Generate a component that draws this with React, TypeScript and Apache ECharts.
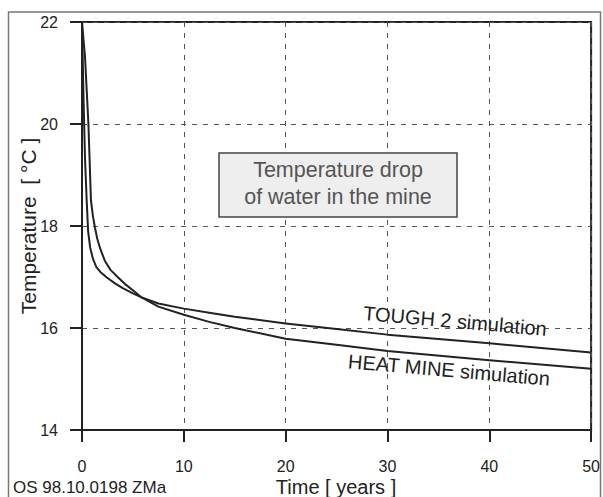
import React, { useEffect, useRef } from "react";
import * as echarts from "echarts";

const xTicks = [0, 10, 20, 30, 40, 50];
const yTicks = [14, 16, 18, 20, 22];

const toughYears = [0, 0.15, 0.3, 0.46, 0.6, 0.8, 1.07, 1.4, 1.8, 2.44, 3.2, 4, 5, 5.85, 7.5, 10, 12.5, 15, 20, 25, 30, 40, 50];
const toughTemp = [22, 20.5, 19.3, 18.5, 17.9, 17.58, 17.36, 17.2, 17.1, 16.99, 16.88, 16.78, 16.68, 16.6, 16.48, 16.38, 16.3, 16.22, 16.09, 15.98, 15.87, 15.7, 15.52];

const heatYears = [0, 0.3, 0.63, 0.88, 1.07, 1.27, 1.5, 1.8, 2.24, 2.8, 3.5, 4.3, 5.36, 5.85, 7.5, 10, 12.5, 15, 20, 25, 30, 40, 50];
const heatTemp = [22, 21.3, 20, 18.5, 18.2, 17.97, 17.75, 17.55, 17.32, 17.14, 17.0, 16.85, 16.68, 16.6, 16.42, 16.26, 16.12, 16.0, 15.79, 15.67, 15.55, 15.37, 15.2];

const FONT = "Liberation Sans, Arial, sans-serif";

export default function App() {
  const ref = useRef<HTMLDivElement>(null);
  useEffect(() => {
    document.body.style.margin = "0";
    const chart = echarts.init(ref.current!, null, { renderer: "svg" });
    const pairs = (xs: number[], ys: number[]) => xs.map((x, i) => [x, ys[i]]);
    chart.setOption({
      animation: false,
      backgroundColor: "#ffffff",
      grid: {
        left: 82,
        right: 8,
        top: 22,
        bottom: 67,
        show: true,
        borderColor: "#222",
        borderWidth: 2,
      },
      xAxis: {
        type: "value",
        min: xTicks[0],
        max: xTicks[xTicks.length - 1],
        interval: 10,
        axisLine: { show: true, lineStyle: { color: "#222", width: 2 } },
        axisTick: { show: true, length: 12, lineStyle: { color: "#222", width: 2 } },
        axisLabel: { margin: 28, fontSize: 16, color: "#222", fontFamily: FONT },
        splitLine: { show: true, lineStyle: { color: "#555", width: 1, type: [5, 6] } },
      },
      yAxis: {
        type: "value",
        min: yTicks[0],
        max: yTicks[yTicks.length - 1],
        interval: 2,
        axisLine: { show: true, lineStyle: { color: "#222", width: 2 } },
        axisTick: { show: true, length: 12, lineStyle: { color: "#222", width: 2 } },
        axisLabel: { margin: 24, fontSize: 16, color: "#222", fontFamily: FONT },
        splitLine: { show: true, lineStyle: { color: "#555", width: 1, type: [5, 6] } },
      },
      series: [
        {
          name: "TOUGH 2 simulation",
          type: "line",
          data: pairs(toughYears, toughTemp),
          showSymbol: false,
          lineStyle: { color: "#222", width: 2, join: "round" },
          z: 5,
        },
        {
          name: "HEAT MINE simulation",
          type: "line",
          data: pairs(heatYears, heatTemp),
          showSymbol: false,
          lineStyle: { color: "#222", width: 2, join: "round" },
          z: 5,
        },
      ],
      graphic: [
        {
          type: "rect",
          z: 100,
          shape: { x: 8.5, y: 12, width: 592, height: 500 },
          style: { fill: "none", stroke: "#777", lineWidth: 1.5 },
        },
        {
          type: "rect",
          z: 100,
          shape: { x: 219, y: 153, width: 238, height: 64 },
          style: { fill: "#eeeeee", stroke: "#444", lineWidth: 1.5 },
        },
        {
          type: "text",
          z: 101,
          x: 338,
          y: 170,
          style: { text: "Temperature drop", fontSize: 21.5, fontFamily: FONT, fill: "#555", align: "center", verticalAlign: "middle" },
        },
        {
          type: "text",
          z: 101,
          x: 338,
          y: 197,
          style: { text: "of water in the mine", fontSize: 21.5, fontFamily: FONT, fill: "#555", align: "center", verticalAlign: "middle" },
        },
        {
          type: "text",
          z: 101,
          x: 455,
          y: 321,
          rotation: (-5 * Math.PI) / 180,
          style: { text: "TOUGH 2 simulation", fontSize: 20, fontFamily: FONT, fill: "#222", align: "center", verticalAlign: "middle" },
        },
        {
          type: "text",
          z: 101,
          x: 449,
          y: 370,
          rotation: (-5 * Math.PI) / 180,
          style: { text: "HEAT MINE simulation", fontSize: 20, fontFamily: FONT, fill: "#222", align: "center", verticalAlign: "middle" },
        },
        {
          type: "text",
          z: 101,
          x: 28,
          y: 226,
          rotation: Math.PI / 2,
          style: { text: "Temperature  [ °C ]", fontSize: 21, fontFamily: FONT, fill: "#222", align: "center", verticalAlign: "middle" },
        },
        {
          type: "text",
          z: 101,
          x: 336,
          y: 487,
          style: { text: "Time [ years ]", fontSize: 20, fontFamily: FONT, fill: "#222", align: "center", verticalAlign: "middle" },
        },
        {
          type: "text",
          z: 101,
          x: 13,
          y: 487,
          style: { text: "OS 98.10.0198 ZMa", fontSize: 17, fontFamily: FONT, fill: "#222", align: "left", verticalAlign: "middle" },
        },
      ],
    });
    return () => chart.dispose();
  }, []);
  return <div ref={ref} style={{ width: 603, height: 497 }} />;
}
